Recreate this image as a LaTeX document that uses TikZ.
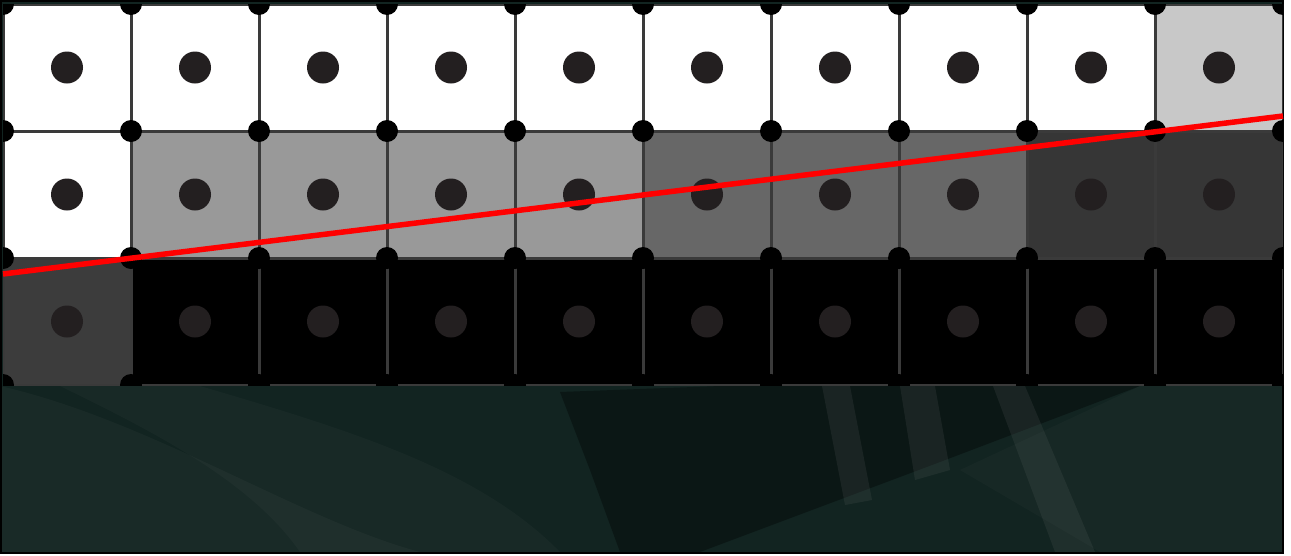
\documentclass[tikz,border=0pt]{standalone}
\definecolor{bgteal}{RGB}{18,36,33}
\definecolor{dotc}{RGB}{35,31,32}
\definecolor{gridc}{RGB}{58,58,58}
\definecolor{cellW}{RGB}{255,255,255}
\definecolor{cellL}{RGB}{200,200,200}
\definecolor{cellM}{RGB}{153,153,153}
\definecolor{cellD}{RGB}{103,103,103}
\definecolor{cellE}{RGB}{54,54,54}
\definecolor{cellF}{RGB}{60,60,60}
\definecolor{cellK}{RGB}{0,0,0}
\tikzset{
  vdot/.style={circle,fill=black,inner sep=0pt,minimum size=22pt},
  cdot/.style={circle,fill=dotc,inner sep=0pt,minimum size=32pt},
  gridline/.style={draw=gridc,line width=3pt},
  streak/.style={fill=gray!70!bgteal,opacity=0.18},
  darkband/.style={fill=black,opacity=0.35},
  redline/.style={draw=red,line width=5.5pt}
}
\begin{document}
\begin{tikzpicture}[x=1pt,y=-1pt]
\useasboundingbox (0,0) rectangle (1291,555);
\fill[white] (0,0) rectangle (1291,555);
% textured background
\fill[bgteal] (0,0) rectangle (1283,553);
\fill[gray,opacity=0.07] (0,386) .. controls (150,420) and (300,520) .. (420,552) -- (0,552) -- cycle;
\fill[gray,opacity=0.06] (200,386) .. controls (350,430) and (480,470) .. (560,552) -- (300,552) .. controls (250,480) and (150,430) .. (60,386) -- cycle;
\fill[darkband] (560,392) -- (720,386) -- (1140,386) -- (940,462) -- (700,552) -- (620,552) -- (590,470) -- cycle;
\fill[streak] (993,386) -- (1025,386) -- (1095,552) -- (1055,552) -- cycle;
\fill[streak] (900,386) -- (935,386) -- (950,470) -- (915,480) -- cycle;
\fill[streak] (822,386) -- (850,386) -- (872,500) -- (845,505) -- cycle;
\fill[gray,opacity=0.05] (1140,386) -- (1283,386) -- (1283,552) -- (1100,552) -- (960,470) -- cycle;
\draw[black,line width=2pt] (1,1) rectangle (1283,553);
% grid
\begin{scope}
\clip (3,4) rectangle (1283,385);
\foreach \c [count=\i from 0] in {cellW,cellW,cellW,cellW,cellW,cellW,cellW,cellW,cellW,cellL}
  \fill[fill=\c] (3+128*\i,4) rectangle (131+128*\i,131);
\foreach \c [count=\i from 0] in {cellW,cellM,cellM,cellM,cellM,cellD,cellD,cellD,cellE,cellE}
  \fill[fill=\c] (3+128*\i,131) rectangle (131+128*\i,258);
\foreach \c [count=\i from 0] in {cellF,cellK,cellK,cellK,cellK,cellK,cellK,cellK,cellK,cellK}
  \fill[fill=\c] (3+128*\i,258) rectangle (131+128*\i,385);
\foreach \i in {0,...,10}
  \draw[gridline] (3+128*\i,4) -- (3+128*\i,385);
\foreach \y in {4,131,258,385}
  \draw[gridline] (3,\y) -- (1283,\y);
\foreach \i in {0,...,10}
  \foreach \y [count=\j] in {4,131,258,385}
    \node[vdot] (v-\i-\j) at (3+128*\i,\y) {};
\foreach \i in {0,...,9}
  \foreach \y [count=\j] in {67.5,194.5,321.5}
    \node[cdot] (c-\i-\j) at (67+128*\i,\y) {};
\end{scope}
\coordinate (rl) at (3,274);
\coordinate (rr) at (1283,116);
\draw[redline] (rl) -- (rr);
\end{tikzpicture}
\end{document}
